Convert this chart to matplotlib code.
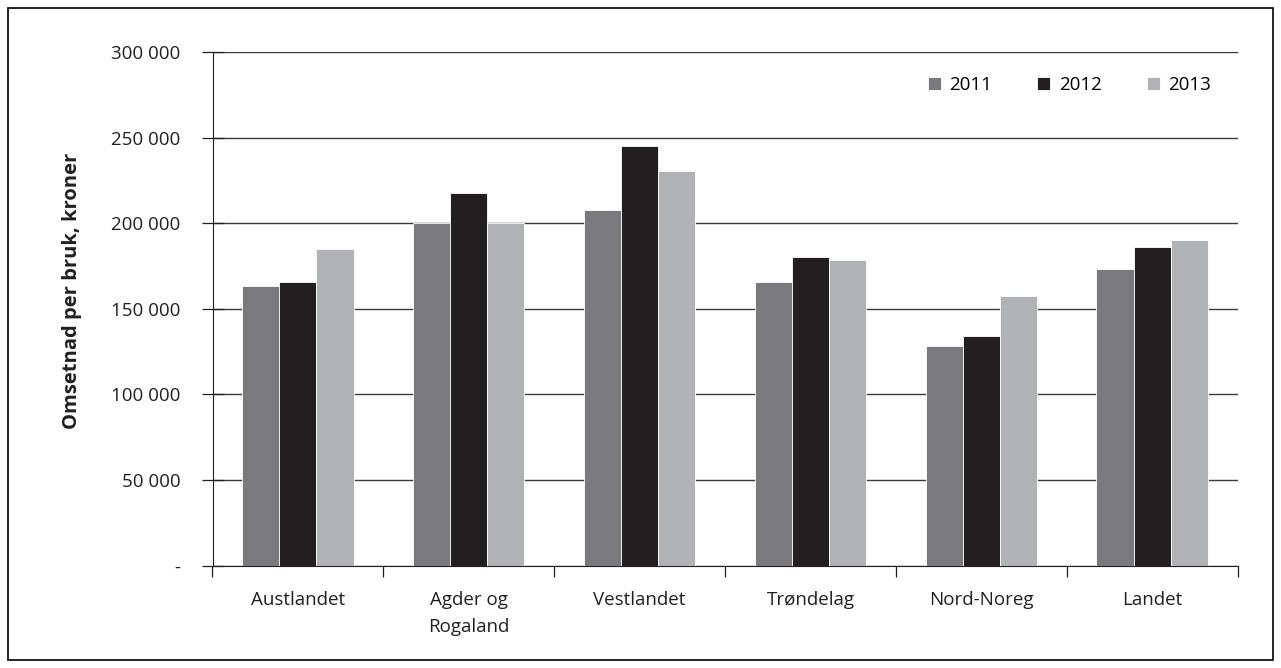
import matplotlib
matplotlib.use('Agg')
import matplotlib.pyplot as plt
from matplotlib.patches import Rectangle
from matplotlib.ticker import FuncFormatter
import numpy as np

plt.rcParams['font.family'] = ['Open Sans', 'DejaVu Sans']

# Data
regions = ['Austlandet', 'Agder og\nRogaland', 'Vestlandet', 'Trøndelag', 'Nord-Noreg', 'Landet']
years = ['2011', '2012', '2013']
v2011 = [163300, 200000, 207500, 165800, 128400, 173100]
v2012 = [165800, 217600, 245100, 180300, 134100, 185900]
v2013 = [184700, 200000, 230500, 178700, 157300, 190200]
colors = ['#7a7a7e', '#231f20', '#b1b2b5']
txt = '#231f20'


def fmt_thousands(v, pos):
    if v == 0:
        return '-'
    return f"{int(v):,}".replace(',', ' ')


fig = plt.figure(figsize=(12.81, 6.68), dpi=100)
ax = fig.add_axes([212.5 / 1281, 1 - 565.6 / 668, 1025 / 1281, 513.6 / 668])

# Frame around the whole figure
fig.patches.append(Rectangle((8 / 1281, 8 / 668), 1265 / 1281, 652 / 668,
                             transform=fig.transFigure, fill=False,
                             edgecolor='black', linewidth=1.2))

x = np.arange(len(regions))
w = 0.217
for i, (vals, yr) in enumerate(zip([v2011, v2012, v2013], years)):
    ax.bar(x + (i - 1) * w, vals, width=w, color=colors[i], label=yr,
           edgecolor='white', linewidth=0.6, zorder=3)

ax.set_ylim(0, 300000)
ax.set_xlim(-0.5, len(regions) - 0.5)
ax.set_yticks(np.arange(0, 300001, 50000))
ax.yaxis.set_major_formatter(FuncFormatter(fmt_thousands))
ax.grid(axis='y', color='#3a3a3a', linewidth=1.0, zorder=0)

# Ticks at group boundaries, labels at group centres
ax.set_xticks(np.arange(-0.5, len(regions), 1.0))
ax.set_xticklabels([])
ax.set_xticks(x, minor=True)
ax.set_xticklabels(regions, minor=True, fontsize=13.5, color=txt,
                   linespacing=1.65)
ax.tick_params(axis='x', which='major', direction='out', length=8,
               width=0.9, color=txt)
ax.tick_params(axis='x', which='minor', length=0, pad=18)
ax.tick_params(axis='y', direction='inout', length=16, width=0.9,
               labelsize=13.5, labelcolor=txt, color=txt, pad=15)

for s in ['top', 'right']:
    ax.spines[s].set_visible(False)
ax.spines['left'].set_color(txt)
ax.spines['bottom'].set_color(txt)

ax.set_ylabel('Omsetnad per bruk, kroner', fontsize=14.5, fontweight='bold',
              color=txt)
ax.yaxis.set_label_coords(-0.127, 0.535)

ax.legend(loc='center right', bbox_to_anchor=(0.974, 0.9357), ncol=3,
          frameon=False, fontsize=13.5, handlelength=0.7, handleheight=0.7,
          columnspacing=2.4, handletextpad=0.45, borderpad=0,
          borderaxespad=0)

fig.savefig('out.png', dpi=100)
